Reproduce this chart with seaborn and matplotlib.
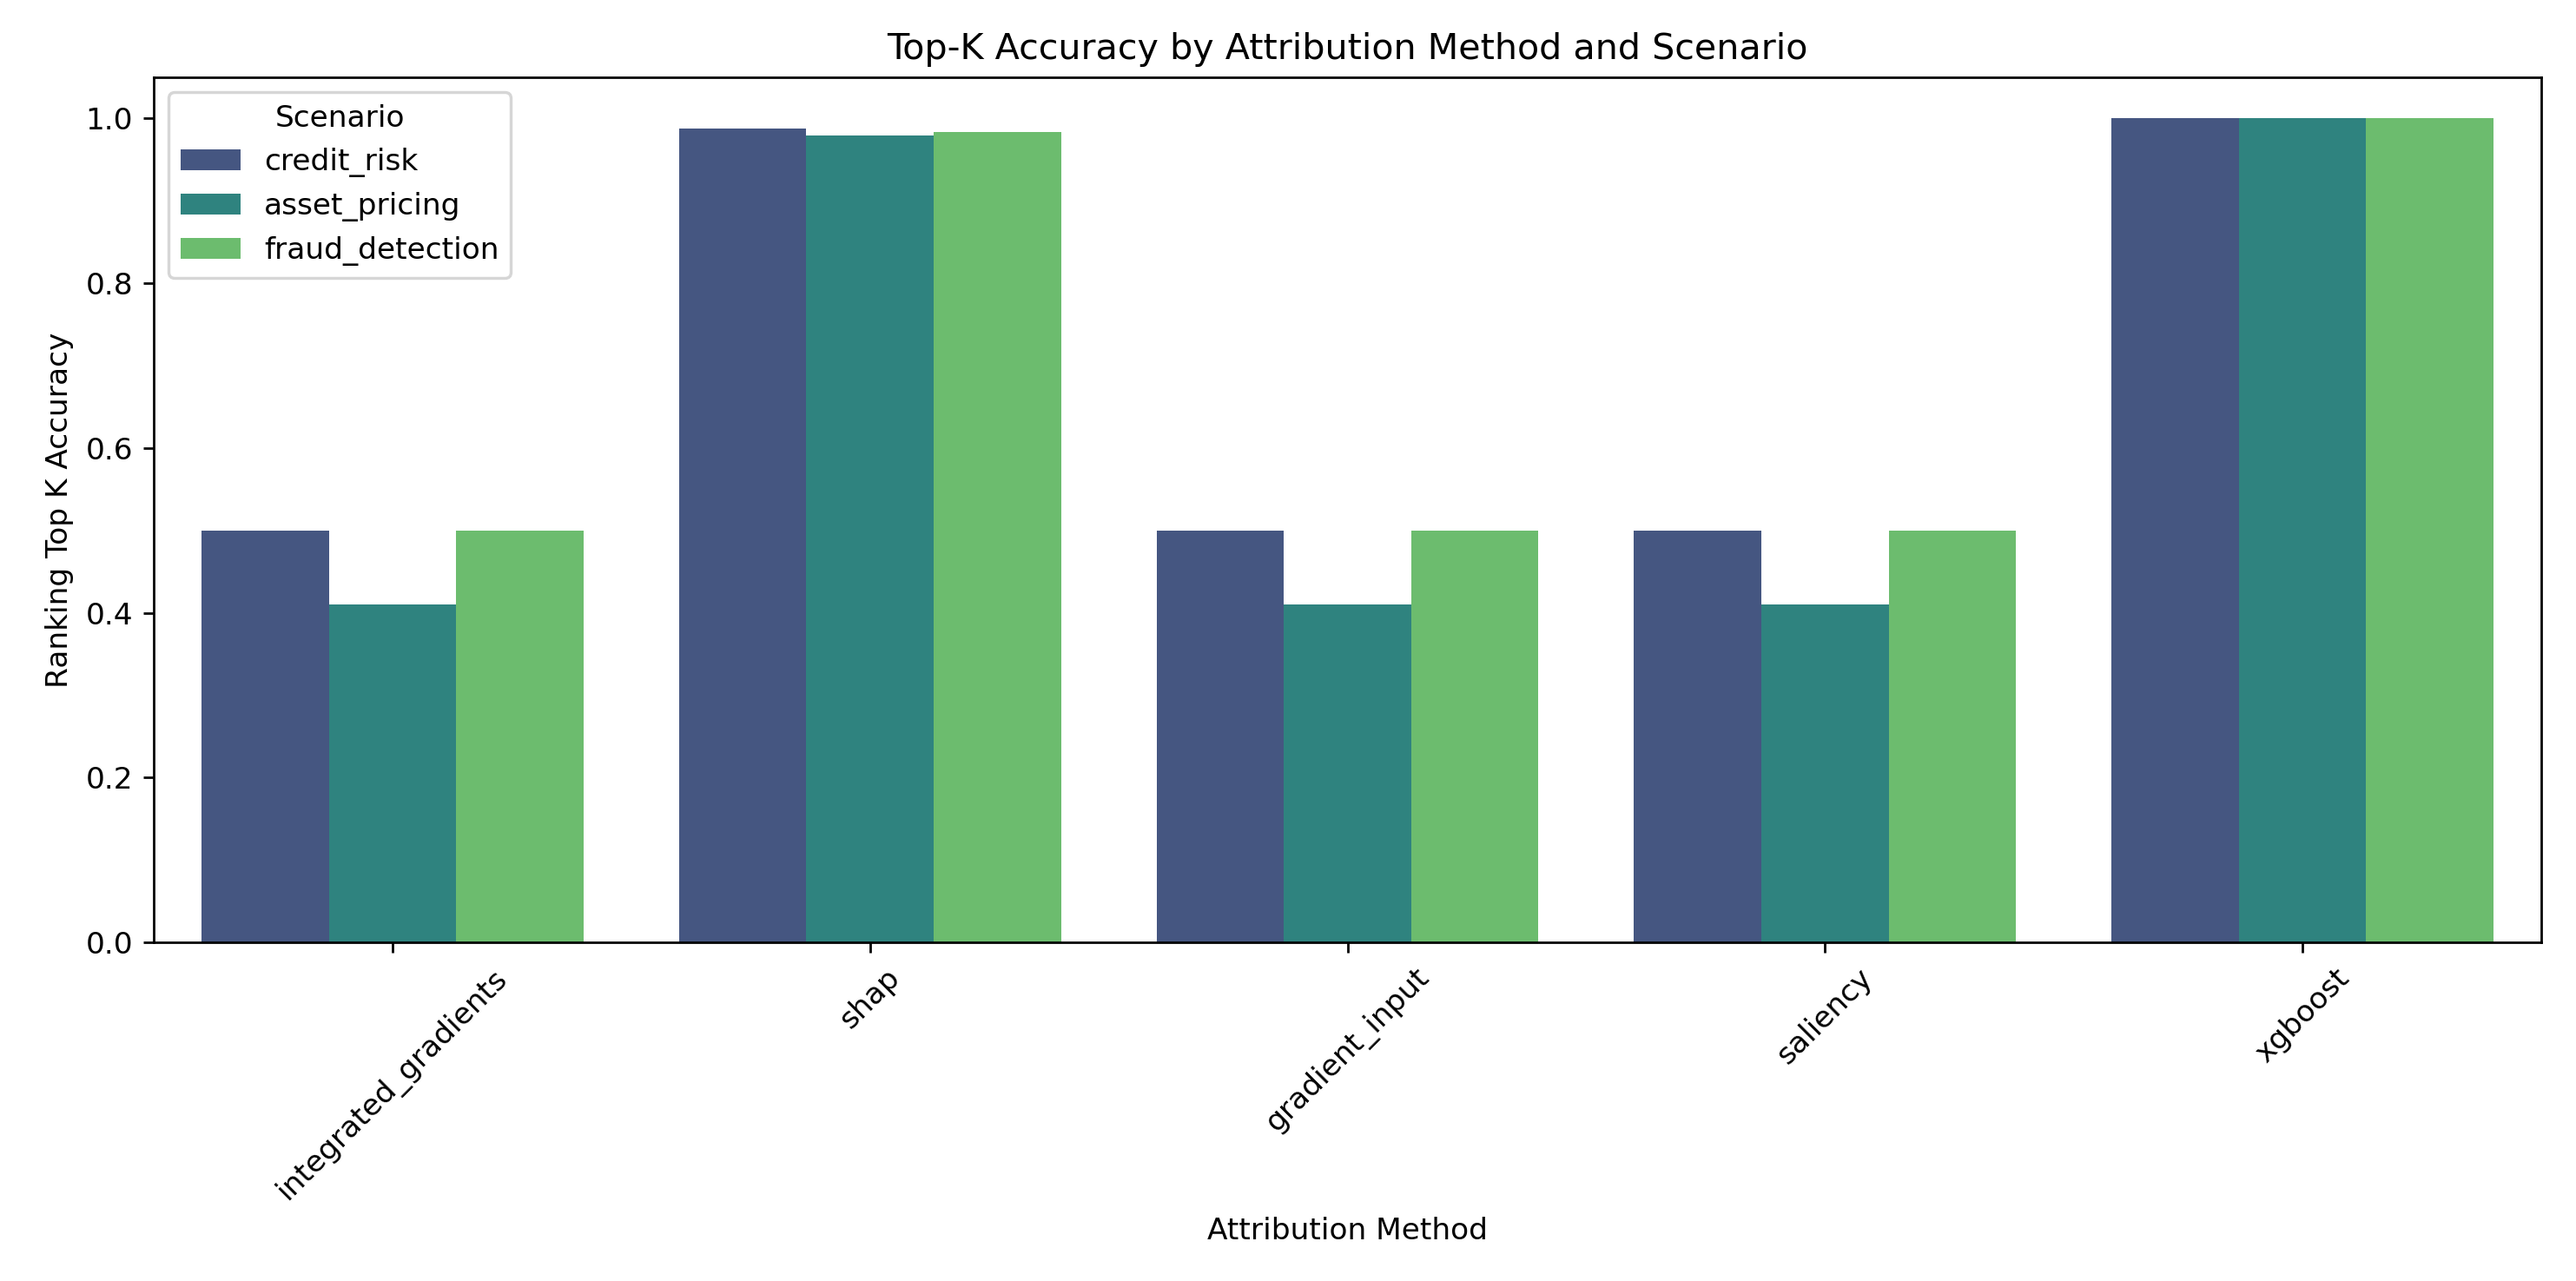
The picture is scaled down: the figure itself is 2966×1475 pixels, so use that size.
import numpy as np
import pandas as pd
import matplotlib
matplotlib.use('Agg')
import matplotlib.pyplot as plt
import seaborn as sns

methods = ['integrated_gradients', 'shap', 'gradient_input', 'saliency', 'xgboost']
scenarios = ['credit_risk', 'asset_pricing', 'fraud_detection']

credit_risk = [0.5, 0.988, 0.5, 0.5, 1.0]
asset_pricing = [0.41, 0.979, 0.41, 0.41, 1.0]
fraud_detection = [0.5, 0.984, 0.5, 0.5, 1.0]

rows = []
for s, vals in zip(scenarios, [credit_risk, asset_pricing, fraud_detection]):
    for m, v in zip(methods, vals):
        rows.append({'method': m, 'scenario': s, 'ranking_top_k_accuracy': v})
df = pd.DataFrame(rows)

dpi = 2966 / 12
fig = plt.figure(figsize=(12, 1475 / dpi))
ax = sns.barplot(data=df, x='method', y='ranking_top_k_accuracy', hue='scenario',
                 palette='viridis')
plt.title('Top-K Accuracy by Attribution Method and Scenario')
plt.xlabel('Attribution Method')
plt.ylabel('Ranking Top K Accuracy')
plt.xticks(rotation=45)
plt.legend(title='Scenario', loc='upper left')
# margins matched to the reference
plt.subplots_adjust(left=0.0597, right=0.9865, top=0.9397, bottom=0.2644)
plt.savefig('out.png', dpi=dpi)
